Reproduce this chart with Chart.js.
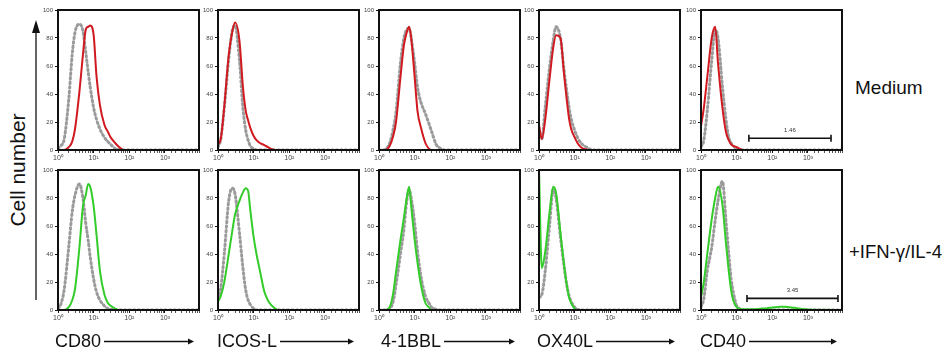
<!DOCTYPE html>
<html>
<head>
<meta charset="utf-8">
<script src="https://cdn.jsdelivr.net/npm/chart.js@4/dist/chart.umd.min.js"></script>
<style>
body { margin:0; background:#fff; width:947px; height:352px; overflow:hidden; position:relative;
       font-family:"Liberation Sans", Arial, sans-serif; color:#111; }
.panel { position:absolute; width:165px; height:166px; }
.lbl { position:absolute; white-space:nowrap; height:24px; line-height:24px; }
#arrows { position:absolute; left:0; top:0; }
</style>
</head>
<body>
<svg id="arrows" width="947" height="352"></svg>

<script>
// fluorescence intensity channels (x), shared by every histogram
var fluorescence = [1, 1.2, 1.5, 2, 2.5, 3, 4, 5, 6, 7, 8, 10, 12, 15, 20, 25, 30, 40, 50, 70, 100, 150, 200, 300, 500, 1000, 10000];

var markers = ['CD80', 'ICOS-L', '4-1BBL', 'OX40L', 'CD40'];
var conditions = ['Medium', '+IFN-\u03b3/IL-4'];

// Medium: isotype (grey dotted) and stain (red)
var cd80MedIso    = [1, 3, 8, 36, 68, 84, 90, 85, 70, 56, 45, 30, 22, 15, 9, 6, 4, 1, 0.5, 0, 0, 0, 0, 0, 0, 0, 0];
var cd80MedStain  = [0, 0, 0, 2, 6, 15, 42, 68, 86, 88, 89, 82, 53, 32, 18, 13, 9, 5, 2.5, 0, 0, 0, 0, 0, 0, 0, 0];
var icosMedIso    = [2, 8, 30, 65, 85, 89, 64, 30, 14, 7, 3, 1, 0, 0, 0, 0, 0, 0, 0, 0, 0, 0, 0, 0, 0, 0, 0];
var icosMedStain  = [4, 8, 31, 68, 84, 91, 78, 45, 28, 21, 16, 10, 7, 5, 3.5, 2, 1, 0, 0, 0, 0, 0, 0, 0, 0, 0, 0];
var bblMedIso     = [0, 0, 0.5, 5, 15, 27, 62, 80, 86, 87, 80, 62, 45, 34, 26, 19, 13, 4, 1.5, 0, 0, 0, 0, 0, 0, 0, 0];
var bblMedStain   = [0, 0, 0, 3, 10, 20, 52, 75, 84, 88, 80, 52, 28, 16, 5, 1, 0, 0, 0, 0, 0, 0, 0, 0, 0, 0, 0];
var ox40MedIso    = [10, 8, 31, 60, 78, 88, 80, 58, 42, 30, 22, 14, 9, 5, 2.5, 1, 0, 0, 0, 0, 0, 0, 0, 0, 0, 0, 0];
var ox40MedStain  = [18, 8, 22, 52, 73, 82, 80, 55, 36, 22, 15, 9, 5, 2, 0.5, 0, 0, 0, 0, 0, 0, 0, 0, 0, 0, 0, 0];
var cd40MedIso    = [2, 7, 28, 64, 86, 80, 45, 22, 9, 5, 3, 1, 0, 0, 0, 0, 0, 0, 0, 0, 0, 0, 0, 0, 0, 0, 0];
var cd40MedStain  = [17, 30, 52, 80, 88, 62, 30, 13, 7, 4, 3, 2, 1, 0, 0, 0, 0, 0, 0, 0, 0, 0, 0, 0, 0, 0, 0];

// +IFN-g/IL-4: isotype (grey dotted) and stain (green)
var cd80IfnIso    = [1, 4, 15, 45, 70, 82, 90, 80, 62, 50, 38, 22, 13, 7, 3, 1, 0.5, 0, 0, 0, 0, 0, 0, 0, 0, 0, 0];
var cd80IfnStain  = [0, 0, 0, 2, 7, 15, 45, 74, 82, 90, 88, 74, 54, 28, 11, 5, 3, 1, 0, 0, 0, 0, 0, 0, 0, 0, 0];
var icosIfnIso    = [8, 16, 40, 78, 87, 83, 55, 30, 14, 7, 4, 1, 0, 0, 0, 0, 0, 0, 0, 0, 0, 0, 0, 0, 0, 0, 0];
var icosIfnStain  = [6, 10, 20, 40, 56, 68, 78, 84, 87, 85, 72, 52, 40, 28, 13, 7, 4, 1, 0, 0, 0, 0, 0, 0, 0, 0, 0];
var bblIfnIso     = [0, 0, 0, 1, 6, 18, 40, 58, 78, 86, 80, 62, 42, 24, 10, 5, 2, 0.5, 0, 0, 0, 0, 0, 0, 0, 0, 0];
var bblIfnStain   = [0, 0, 0, 2, 12, 27, 50, 66, 80, 88, 74, 50, 34, 18, 5, 2, 0, 0, 0, 0, 0, 0, 0, 0, 0, 0, 0];
var ox40IfnIso    = [9, 11, 28, 62, 86, 80, 52, 32, 18, 10, 6, 2, 0.5, 0, 0, 0, 0, 0, 0, 0, 0, 0, 0, 0, 0, 0, 0];
var ox40IfnStain  = [100, 30, 42, 71, 88, 84, 55, 33, 18, 9, 5, 1, 0, 0, 0, 0, 0, 0, 0, 0, 0, 0, 0, 0, 0, 0, 0];
var cd40IfnIso    = [2, 8, 28, 45, 64, 78, 92, 64, 40, 22, 13, 3, 1, 0, 0, 0, 0, 0, 0, 0, 0, 0, 0, 0, 0, 0, 0];
var cd40IfnStain  = [9, 20, 40, 65, 80, 88, 75, 48, 28, 14, 7, 2, 1, 0.5, 0.5, 0.5, 0.5, 0.8, 1, 1.3, 1.8, 2.2, 2.4, 2, 1.2, 0.3, 0];

// CD40 positive gates
var gateMedRange = [22, 4430];
var gateMedLevel = 8.4;
var gateMedLabel = '1.46';
var gateIfnRange = [19.5, 6940];
var gateIfnLevel = 8.3;
var gateIfnLabel = '3.45';

var yTicks = [0, 20, 40, 60, 80, 100];

var RED = '#d01a20';
var GREEN = '#33cc2a';
var GREY = '#9b9b9b';
var FONT = '"Liberation Sans", Arial, sans-serif';

var sup = ['\u2070', '\u00b9', '\u00b2', '\u00b3'];
var lefts = [58, 218, 379, 539, 701];
var tops = [10, 170];

var medium = [
  [cd80MedIso, cd80MedStain], [icosMedIso, icosMedStain], [bblMedIso, bblMedStain],
  [ox40MedIso, ox40MedStain], [cd40MedIso, cd40MedStain]
];
var ifn = [
  [cd80IfnIso, cd80IfnStain], [icosIfnIso, icosIfnStain], [bblIfnIso, bblIfnStain],
  [ox40IfnIso, ox40IfnStain], [cd40IfnIso, cd40IfnStain]
];

function pts(vals) {
  return fluorescence.map(function (f, i) { return { x: f, y: vals[i] }; });
}

// box frame + optional gate bar
var framePlugin = {
  id: 'frame',
  afterDatasetsDraw: function (chart, args, opts) {
    var a = chart.chartArea, c = chart.ctx;
    c.save();
    c.strokeStyle = '#111';
    c.lineWidth = 2;
    c.strokeRect(a.left, a.top, a.right - a.left, a.bottom - a.top);
    if (opts.gate) {
      var g = opts.gate;
      var x1 = chart.scales.x.getPixelForValue(g.range[0]);
      var x2 = chart.scales.x.getPixelForValue(g.range[1]);
      var y = chart.scales.y.getPixelForValue(g.level);
      c.lineWidth = 1.6;
      c.beginPath();
      c.moveTo(x1, y); c.lineTo(x2, y);
      c.moveTo(x1, y - 3.5); c.lineTo(x1, y + 3.5);
      c.moveTo(x2, y - 3.5); c.lineTo(x2, y + 3.5);
      c.stroke();
      c.fillStyle = '#333';
      c.font = '6px ' + FONT;
      c.textAlign = 'center';
      c.textBaseline = 'bottom';
      c.fillText(g.label, (x1 + x2) / 2, y - 5);
    }
    c.restore();
  }
};

function makePanel(col, row) {
  var pair = row === 0 ? medium[col] : ifn[col];
  var div = document.createElement('div');
  div.className = 'panel';
  div.style.left = (lefts[col] - 20) + 'px';
  div.style.top = (tops[row] - 6) + 'px';
  var cv = document.createElement('canvas');
  cv.width = 165; cv.height = 166;
  div.appendChild(cv);
  document.body.appendChild(div);

  var gate = null;
  if (col === 4) {
    gate = row === 0
      ? { range: gateMedRange, level: gateMedLevel, label: gateMedLabel }
      : { range: gateIfnRange, level: gateIfnLevel, label: gateIfnLabel };
  }

  new Chart(cv.getContext('2d'), {
    type: 'line',
    data: {
      datasets: [
        { data: pts(pair[1]), borderColor: row === 0 ? RED : GREEN, borderWidth: 2,
          pointRadius: 0, cubicInterpolationMode: 'monotone', fill: false },
        { data: pts(pair[0]), borderColor: GREY, borderWidth: 3, borderDash: [1.5, 3],
          borderCapStyle: 'round', pointRadius: 0, cubicInterpolationMode: 'monotone', fill: false }
      ]
    },
    options: {
      responsive: false,
      animation: false,
      layout: { padding: { top: 6, right: 4, left: 2, bottom: 0 } },
      plugins: { legend: { display: false }, tooltip: { enabled: false }, frame: { gate: gate } },
      scales: {
        x: {
          type: 'logarithmic', min: 1, max: 9000,
          afterFit: function (s) { s.height = 20; },
          border: { display: false },
          grid: { drawOnChartArea: false, tickLength: 3,
                  tickColor: function (ctx) { return ctx.tick && ctx.tick.major ? '#111' : '#555'; } },
          ticks: {
            autoSkip: false, maxRotation: 0, padding: 1, color: '#444',
            font: { size: 7, family: FONT },
            callback: function (v) {
              var p = Math.log10(v), r = Math.round(p);
              if (Math.abs(p - r) < 1e-6 && r < 4) return '10' + sup[r];
              return '';
            }
          }
        },
        y: {
          min: 0, max: 100,
          afterFit: function (s) { s.width = 18; },
          afterBuildTicks: function (s) { s.ticks = yTicks.map(function (v) { return { value: v }; }); },
          border: { display: false },
          grid: { drawOnChartArea: false, tickLength: 3, tickColor: '#111' },
          ticks: { padding: 2, color: '#444', font: { size: 6, family: FONT } }
        }
      }
    },
    plugins: [framePlugin]
  });
}

for (var r = 0; r < 2; r++) {
  for (var c = 0; c < 5; c++) makePanel(c, r);
}

// text labels and arrows
var svg = document.getElementById('arrows');
var NS = 'http://www.w3.org/2000/svg';
function line(x1, y1, x2, y2) {
  var l = document.createElementNS(NS, 'line');
  l.setAttribute('x1', x1); l.setAttribute('y1', y1);
  l.setAttribute('x2', x2); l.setAttribute('y2', y2);
  l.setAttribute('stroke', '#111'); l.setAttribute('stroke-width', 1.3);
  svg.appendChild(l);
}
function tri(p) {
  var t = document.createElementNS(NS, 'polygon');
  t.setAttribute('points', p);
  t.setAttribute('fill', '#111');
  svg.appendChild(t);
}
function label(txt, x, y, size) {
  var d = document.createElement('div');
  d.className = 'lbl';
  d.textContent = txt;
  d.style.left = x + 'px';
  d.style.top = (y - 12) + 'px';
  d.style.fontSize = size + 'px';
  document.body.appendChild(d);
  return d;
}

var markerX = [55, 217, 381, 537, 700];
markers.forEach(function (m, i) {
  var d = label(m, markerX[i], 341, 18);
  var x0 = markerX[i] + d.offsetWidth + 3;
  var x1 = lefts[i] + 136;
  line(x0, 341.5, x1 - 5, 341.5);
  tri((x1 - 6) + ',338.5 ' + x1 + ',341.5 ' + (x1 - 6) + ',344.5');
});

label(conditions[0], 855, 88, 19);
label(conditions[1], 849, 252, 18.5);

var yl = label('Cell number', -42, 170, 21);
yl.style.width = '120px';
yl.style.textAlign = 'center';
yl.style.transform = 'rotate(-90deg)';

line(36, 300, 36, 30);
tri('32,33 36,20 40,33');
</script>
</body>
</html>
